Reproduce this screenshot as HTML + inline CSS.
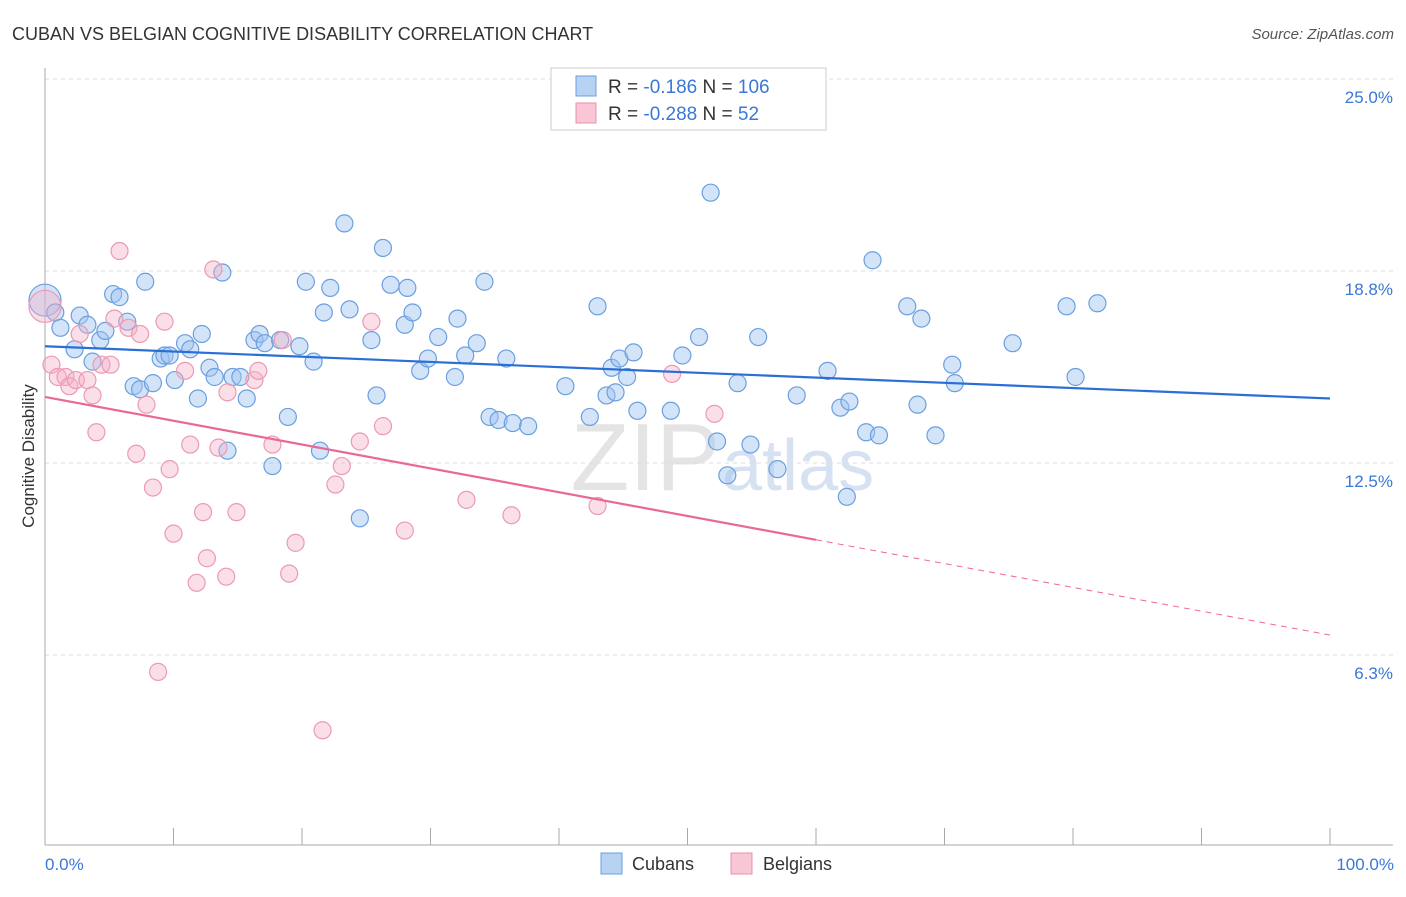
<!DOCTYPE html>
<html><head><meta charset="utf-8"><style>
body{margin:0;background:#fff;font-family:"Liberation Sans",sans-serif;}
svg text{font-family:"Liberation Sans",sans-serif;}
</style></head><body>
<svg id="chart" width="1406" height="892" xmlns="http://www.w3.org/2000/svg">
<text x="12" y="40" font-size="18" fill="#333">CUBAN VS BELGIAN COGNITIVE DISABILITY CORRELATION CHART</text>
<text x="1394" y="39" font-size="15" fill="#555" font-style="italic" text-anchor="end">Source: ZipAtlas.com</text>
<text x="720" y="490" font-size="96" fill="#e4e4e4" font-family="Liberation Serif" text-anchor="end">ZIP</text>
<text x="722" y="490" font-size="72" fill="#d6e2f2">atlas</text>
<g id="grid"></g>
<g id="axes"></g>
<g id="marks"></g>
<g id="lines"></g>
<text transform="translate(34,456) rotate(-90)" font-size="17" fill="#333" text-anchor="middle">Cognitive Disability</text>
<text x="45" y="870" font-size="17" fill="#3a78d8">0.0%</text>
<text x="1394" y="870" font-size="17" fill="#3a78d8" text-anchor="end">100.0%</text>
<g>
<rect x="551" y="68" width="275" height="62" fill="#fff" stroke="#ccc"/>
<rect x="576" y="76" width="20" height="20" fill="#b8d2f4" stroke="#6a9fe0"/>
<rect x="576" y="103" width="20" height="20" fill="#f8c6d4" stroke="#e890aa"/>
<text x="608" y="93" font-size="19" fill="#333">R = <tspan fill="#3a78d8">-0.186</tspan>   N = <tspan fill="#3a78d8">106</tspan></text>
<text x="608" y="120" font-size="19" fill="#333">R = <tspan fill="#3a78d8">-0.288</tspan>   N = <tspan fill="#3a78d8"> 52</tspan></text>
</g>
<g>
<rect x="601" y="853" width="21" height="21" fill="#b8d2f4" stroke="#6a9fe0"/>
<text x="632" y="870" font-size="18" fill="#333">Cubans</text>
<rect x="731" y="853" width="21" height="21" fill="#f8c6d4" stroke="#e890aa"/>
<text x="763" y="870" font-size="18" fill="#333">Belgians</text>
</g>
</svg>
<script>
const yTicks=[6.25,12.5,18.75,25];
const yTickLabels=["6.3%","12.5%","18.8%","25.0%"];
const xTicks=[0,10,20,30,40,50,60,70,80,90,100];
const cubanX=[0,0.8,1.2,2.3,2.7,3.3,3.7,4.3,4.7,5.3,5.8,6.4,6.9,7.4,7.8,8.4,9.0,9.3,9.7,10.1,10.9,11.3,11.9,12.2,12.8,13.2,13.8,14.2,14.6,15.2,15.7,16.3,16.7,17.1,17.7,18.3,18.9,19.8,20.3,20.9,21.4,21.7,22.2,23.3,23.7,24.5,25.4,25.8,26.3,26.9,28.0,28.2,28.6,29.2,29.8,30.6,31.9,32.1,32.7,33.6,34.2,34.6,35.3,35.9,36.4,37.6,40.5,42.4,43.0,43.7,44.1,44.4,44.7,45.3,45.8,46.1,48.7,49.6,50.9,51.8,52.3,53.1,53.9,54.9,55.5,57.0,58.5,60.9,61.9,62.4,62.6,63.9,64.4,64.9,67.1,67.9,68.2,69.3,70.6,70.8,75.3,79.5,80.2,81.9];
const cubanY=[17.8,17.4,16.9,16.2,17.3,17.0,15.8,16.5,16.8,18.0,17.9,17.1,15.0,14.9,18.4,15.1,15.9,16.0,16.0,15.2,16.4,16.2,14.6,16.7,15.6,15.3,18.7,12.9,15.3,15.3,14.6,16.5,16.7,16.4,12.4,16.5,14.0,16.3,18.4,15.8,12.9,17.4,18.2,20.3,17.5,10.7,16.5,14.7,19.5,18.3,17.0,18.2,17.4,15.5,15.9,16.6,15.3,17.2,16.0,16.4,18.4,14.0,13.9,15.9,13.8,13.7,15.0,14.0,17.6,14.7,15.6,14.8,15.9,15.3,16.1,14.2,14.2,16.0,16.6,21.3,13.2,12.1,15.1,13.1,16.6,12.3,14.7,15.5,14.3,11.4,14.5,13.5,19.1,13.4,17.6,14.4,17.2,13.4,15.7,15.1,16.4,17.6,15.3,17.7];
const belgX=[0,0.5,1.0,1.6,1.9,2.4,2.7,3.3,3.7,4.0,4.4,5.1,5.4,5.8,6.5,7.1,7.4,7.9,8.4,8.8,9.3,9.7,10.0,10.9,11.3,11.8,12.3,12.6,13.1,13.5,14.1,14.2,14.9,16.3,16.6,17.7,18.5,19.0,19.5,21.6,22.6,23.1,24.5,25.4,26.3,28.0,32.8,36.3,43.0,48.8,52.1];
const belgY=[17.6,15.7,15.3,15.3,15.0,15.2,16.7,15.2,14.7,13.5,15.7,15.7,17.2,19.4,16.9,12.8,16.7,14.4,11.7,5.7,17.1,12.3,10.2,15.5,13.1,8.6,10.9,9.4,18.8,13.0,8.8,14.8,10.9,15.2,15.5,13.1,16.5,8.9,9.9,3.8,11.8,12.4,13.2,17.1,13.7,10.3,11.3,10.8,11.1,15.4,14.1];
const cubanTrend=[16.3,14.6];
const belgTrend=[14.65,6.9];
const belgSolidEnd=60;

const NS="http://www.w3.org/2000/svg";
const X0=45,X1=1330,Y0=847,PXPER=192/6.25;
function sx(v){return X0+(X1-X0)*v/100;}
function sy(v){return Y0-v*PXPER;}
function mk(t,a,p){const e=document.createElementNS(NS,t);for(const k in a)e.setAttribute(k,a[k]);document.getElementById(p).appendChild(e);return e;}

yTicks.forEach((t,i)=>{
 const g=mk('line',{x1:X0,x2:1393,y1:sy(t),y2:sy(t),stroke:'#ddd','stroke-dasharray':'4,4'},'grid');
 
 
 const l=mk('text',{x:1393,y:sy(t)+24,'font-size':17,fill:'#3a78d8','text-anchor':'end'},'grid');
 l.textContent=yTickLabels[i];
 
 
});
const ax=mk('line',{x1:X0,x2:1393,y1:845,y2:845,stroke:'#aaa'},'axes');


const ay=mk('line',{x1:X0,x2:X0,y1:68,y2:845,stroke:'#aaa'},'axes');


xTicks.forEach(t=>{
 const k=mk('line',{x1:sx(t),x2:sx(t),y1:828,y2:845,stroke:'#aaa'},'axes');
 
 
});
cubanX.forEach((x,i)=>{
 const c=mk('circle',{cx:sx(x),cy:sy(cubanY[i]),r:i===0?16:8.5,fill:'rgba(160,196,240,0.45)',stroke:'#6a9fe0','stroke-width':1.2},'marks');
 
 
});
belgX.forEach((x,i)=>{
 const c=mk('circle',{cx:sx(x),cy:sy(belgY[i]),r:i===0?16:8.5,fill:'rgba(244,176,198,0.4)',stroke:'#eb9ab3','stroke-width':1.2},'marks');
 
 
});
const bl=mk('line',{x1:sx(0),y1:sy(cubanTrend[0]),x2:sx(100),y2:sy(cubanTrend[1]),stroke:'#2a6fd6','stroke-width':2.2},'lines');


const pm=belgTrend[0]+(belgTrend[1]-belgTrend[0])*belgSolidEnd/100;
const pl=mk('line',{x1:sx(0),y1:sy(belgTrend[0]),x2:sx(belgSolidEnd),y2:sy(pm),stroke:'#e86a94','stroke-width':2.2},'lines');


const pd=mk('line',{x1:sx(belgSolidEnd),y1:sy(pm),x2:sx(100),y2:sy(belgTrend[1]),stroke:'#e86a94','stroke-width':1,'stroke-dasharray':'6,5'},'lines');


</script>
</body></html>
